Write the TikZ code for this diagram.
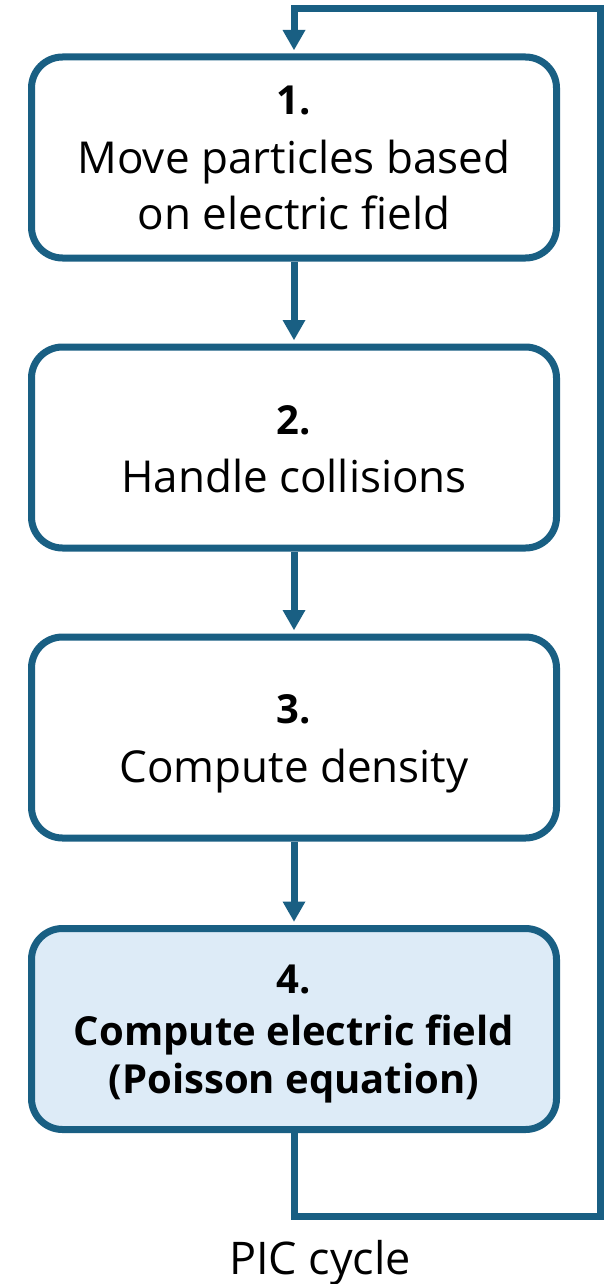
\documentclass[tikz,border=0pt]{standalone}
\usepackage{fontspec}
\setmainfont{Open Sans}
\usetikzlibrary{arrows.meta}
\definecolor{picblue}{RGB}{25,95,131}
\definecolor{picfill}{RGB}{221,235,247}
\begin{document}
\begin{tikzpicture}[x=1pt,y=-1pt,
  stepbox/.style={draw=picblue, line width=7pt, rounded corners=31pt,
    minimum width=525pt, minimum height=201pt, inner sep=0pt, fill=white},
  numtxt/.style={anchor=base, inner sep=0pt, font=\fontsize{40}{48}\selectfont\bfseries},
  steptxt/.style={anchor=base, inner sep=0pt, font=\fontsize{44}{55}\selectfont},
  boldtxt/.style={anchor=base, inner sep=0pt, font=\fontsize{40}{48}\selectfont\bfseries},
  flow/.style={draw=picblue, line width=7pt,
    -{Triangle[length=20pt,width=23pt,line width=0pt]}, shorten >=3.5pt},
]
\useasboundingbox (0,0) rectangle (603,1284);
\fill[white] (0,0) rectangle (603,1284);

\node[stepbox] (b1) at (294,157.5) {};
\node[stepbox] (b2) at (294,447.5) {};
\node[stepbox] (b3) at (294,737.5) {};
\node[stepbox, fill=picfill] (b4) at (294,1029) {};

\node[numtxt] (n1) at (294,115) {1.};
\node[steptxt] (t1a) at (294,174) {Move particles based};
\node[steptxt] (t1b) at (294,229) {on electric field};

\node[numtxt] (n2) at (294,434) {2.};
\node[steptxt] (t2a) at (294,492) {Handle collisions};

\node[numtxt] (n3) at (294,723) {3.};
\node[steptxt] (t3a) at (294,782) {Compute density};

\node[numtxt] (n4) at (294,993) {4.};
\node[boldtxt] (t4a) at (294,1045) {Compute electric field};
\node[boldtxt] (t4b) at (294,1093) {(Poisson equation)};

\coordinate (loopBR) at (600.5,1216);
\coordinate (loopTR) at (600.5,9);

\draw[flow] (b1.south) -- (b2.north);
\draw[flow] (b2.south) -- (b3.north);
\draw[flow] (b3.south) -- (b4.north);
\draw[flow] (b4.south) |- (loopBR) -- (loopTR) -| (b1.north);

\node[anchor=base, inner sep=0pt, font=\fontsize{45}{54}\selectfont] (cap) at (320,1274) {PIC cycle};
\end{tikzpicture}
\end{document}
